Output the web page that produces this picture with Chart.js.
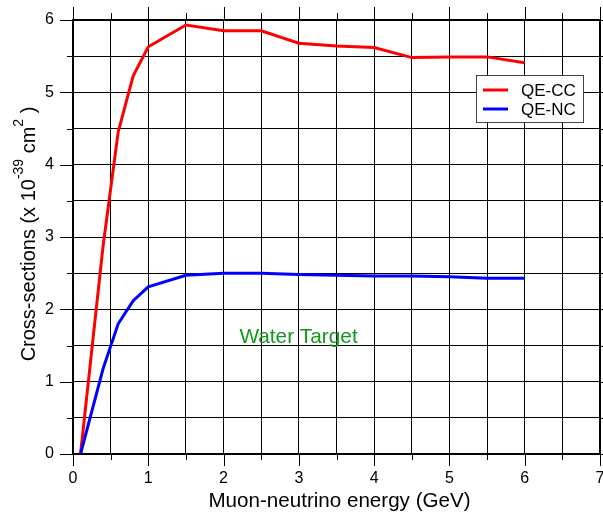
<!DOCTYPE html>
<html>
<head>
<meta charset="utf-8">
<script src="https://cdn.jsdelivr.net/npm/chart.js@4/dist/chart.umd.min.js"></script>
<style>
  html, body { margin: 0; padding: 0; background: #fff; }
  canvas { display: block; }
</style>
</head>
<body>
<canvas id="chart" width="603" height="517"></canvas>
<script>
// Muon-neutrino energy (GeV) sampled for both channels
const energies = [0.1, 0.4, 0.6, 0.8, 1.0, 1.5, 2.0, 2.5, 3.0, 3.5, 4.0, 4.5, 5.0, 5.5, 6.0];
// Quasi-elastic charged-current cross-section (x 10^-39 cm^2)
const qeCC = [0, 2.88, 4.45, 5.23, 5.63, 5.93, 5.85, 5.85, 5.68, 5.64, 5.62, 5.48, 5.49, 5.49, 5.41];
// Quasi-elastic neutral-current cross-section (x 10^-39 cm^2)
const qeNC = [0, 1.18, 1.80, 2.12, 2.31, 2.47, 2.50, 2.50, 2.48, 2.47, 2.46, 2.46, 2.45, 2.43, 2.43];
// Labelled ticks on each axis
const xTickLabels = [0, 1, 2, 3, 4, 5, 6, 7];
const yTickLabels = [0, 1, 2, 3, 4, 5, 6];
const seriesNames = ['QE-CC', 'QE-NC'];
const noteText = 'Water Target';

const FONT = '"Liberation Sans", Arial, Helvetica, sans-serif';

const toPoints = (xs, ys) => xs.map((x, i) => ({ x: x, y: ys[i] }));
const isLabelled = (list, v) => list.some(t => Math.abs(t - v) < 1e-9);

// Frame, inner/outer tick marks, legend box, axis titles and the note
const decorations = {
  id: 'decorations',
  beforeDatasetsDraw(chart) {
    const { ctx, chartArea: a, scales: { x, y } } = chart;
    ctx.save();
    ctx.strokeStyle = '#000';
    ctx.lineWidth = 1;
    ctx.beginPath();
    for (let v = x.min; v <= x.max + 1e-9; v += 0.5) {
      const px = Math.round(x.getPixelForValue(v)) + 0.5;
      const major = isLabelled(xTickLabels, v);
      ctx.moveTo(px, a.top - (major ? 13 : 7)); ctx.lineTo(px, a.top);
      ctx.moveTo(px, a.bottom); ctx.lineTo(px, a.bottom + (major ? 12 : 6));
    }
    for (let v = y.min; v <= y.max + 1e-9; v += 0.5) {
      const py = Math.round(y.getPixelForValue(v)) + 0.5;
      const major = isLabelled(yTickLabels, v);
      ctx.moveTo(a.left - (major ? 13 : 6), py); ctx.lineTo(a.left, py);
      ctx.moveTo(a.right, py); ctx.lineTo(a.right + (major ? 13 : 6), py);
    }
    ctx.stroke();
    ctx.lineWidth = 2;
    ctx.strokeRect(Math.round(a.left), Math.round(a.top),
                   Math.round(a.right - a.left), Math.round(a.bottom - a.top));
    ctx.restore();
  },
  afterDraw(chart) {
    const { ctx, chartArea: a, scales: { x, y } } = chart;
    ctx.save();

    // Legend
    const bx = a.right - 124, by = a.top + 55, bw = 107, bh = 47;
    ctx.fillStyle = '#fff';
    ctx.fillRect(bx, by, bw, bh);
    ctx.strokeStyle = '#444';
    ctx.lineWidth = 1;
    ctx.strokeRect(bx + 0.5, by + 0.5, bw, bh);
    ctx.font = '17px ' + FONT;
    ctx.textBaseline = 'middle';
    ctx.textAlign = 'left';
    chart.data.datasets.forEach((ds, i) => {
      const ly = by + 15 + i * 19;
      ctx.strokeStyle = ds.borderColor;
      ctx.lineWidth = 3;
      ctx.beginPath();
      ctx.moveTo(bx + 7, ly); ctx.lineTo(bx + 32, ly);
      ctx.stroke();
      ctx.fillStyle = '#000';
      ctx.fillText(ds.label, bx + 45, ly + 1);
    });

    // X-axis title
    ctx.fillStyle = '#000';
    ctx.font = '20.6px ' + FONT;
    ctx.textAlign = 'center';
    ctx.textBaseline = 'alphabetic';
    ctx.fillText('Muon-neutrino energy (GeV)', (a.left + a.right) / 2 + 3, a.bottom + 53);

    // Y-axis title with superscripts
    const parts = [
      { t: 'Cross-sections (x 10', s: 20, r: 0 },
      { t: '-39', s: 14, r: 12 },
      { t: ' cm', s: 20, r: 0 },
      { t: '2', s: 14, r: 12 },
      { t: ' )', s: 20, r: 0 }
    ];
    let total = 0;
    parts.forEach(p => { ctx.font = p.s + 'px ' + FONT; p.w = ctx.measureText(p.t).width; total += p.w; });
    ctx.translate(35, (a.top + a.bottom) / 2 - 3);
    ctx.rotate(-Math.PI / 2);
    ctx.textAlign = 'left';
    let cx = -total / 2;
    parts.forEach(p => {
      ctx.font = p.s + 'px ' + FONT;
      ctx.fillText(p.t, cx, -p.r);
      cx += p.w;
    });
    ctx.setTransform(1, 0, 0, 1, 0, 0);

    // Note inside the plot
    ctx.fillStyle = '#14961a';
    ctx.font = '20.8px ' + FONT;
    ctx.textAlign = 'left';
    ctx.textBaseline = 'alphabetic';
    ctx.fillText(noteText, x.getPixelForValue(2.21), y.getPixelForValue(1.54));
    ctx.restore();
  }
};

new Chart(document.getElementById('chart'), {
  type: 'line',
  data: {
    datasets: [
      { label: seriesNames[0], data: toPoints(energies, qeCC), borderColor: '#ff0000',
        borderWidth: 3, pointRadius: 0, tension: 0, fill: false, order: 2 },
      { label: seriesNames[1], data: toPoints(energies, qeNC), borderColor: '#0000ff',
        borderWidth: 3, pointRadius: 0, tension: 0, fill: false, order: 1 }
    ]
  },
  options: {
    responsive: false,
    devicePixelRatio: 1,
    animation: false,
    layout: { padding: { left: 0, top: 20, right: 3, bottom: 0 } },
    plugins: { legend: { display: false }, tooltip: { enabled: false } },
    scales: {
      x: {
        type: 'linear', min: 0, max: 7,
        grid: { color: '#000', lineWidth: 1, drawTicks: false },
        border: { display: false },
        ticks: {
          stepSize: 0.5, autoSkip: false, maxRotation: 0, padding: 15, color: '#000',
          font: { family: FONT, size: 16 },
          callback: v => isLabelled(xTickLabels, v) ? String(v) : ''
        },
        afterFit: s => { s.height = 63; s.paddingLeft = 0; s.paddingRight = 0; }
      },
      y: {
        type: 'linear', min: 0, max: 6,
        grid: { color: '#000', lineWidth: 1, drawTicks: false },
        border: { display: false },
        ticks: {
          stepSize: 0.5, autoSkip: false, padding: 19, color: '#000',
          font: { family: FONT, size: 16 },
          callback: v => isLabelled(yTickLabels, v) ? String(v) : ''
        },
        afterFit: s => { s.width = 73; s.paddingTop = 0; s.paddingBottom = 0; }
      }
    }
  },
  plugins: [decorations]
});
</script>
</body>
</html>
